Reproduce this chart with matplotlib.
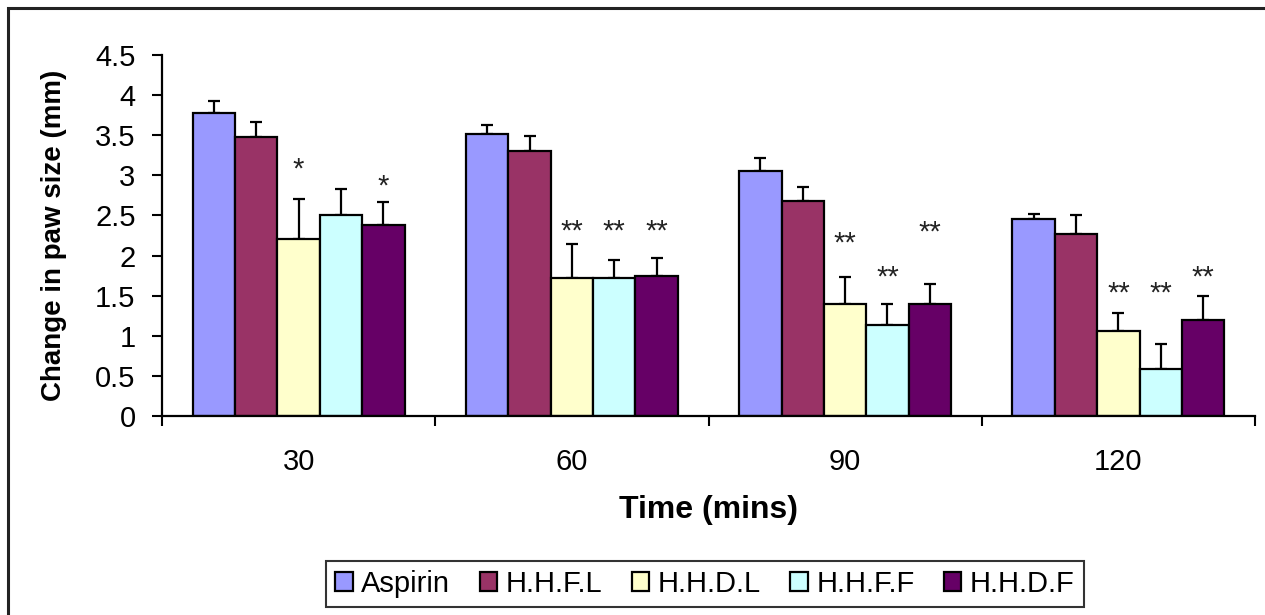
import matplotlib
matplotlib.use("Agg")
import matplotlib.pyplot as plt
import numpy as np
from matplotlib.patches import Rectangle

times = ["30", "60", "90", "120"]
groups = ["Aspirin", "H.H.F.L", "H.H.D.L", "H.H.F.F", "H.H.D.F"]
aspirin = [3.78, 3.52, 3.05, 2.46]
hhfl = [3.48, 3.30, 2.68, 2.27]
hhdl = [2.21, 1.72, 1.39, 1.06]
hhff = [2.50, 1.72, 1.14, 0.59]
hhdf = [2.38, 1.75, 1.39, 1.20]
err_aspirin = [0.15, 0.11, 0.16, 0.06]
err_hhfl = [0.19, 0.19, 0.17, 0.23]
err_hhdl = [0.50, 0.42, 0.34, 0.22]
err_hhff = [0.33, 0.23, 0.25, 0.31]
err_hhdf = [0.29, 0.22, 0.25, 0.30]
# significance marks: (time index, group index, label, y)
sig_time = [0, 0, 1, 1, 1, 2, 2, 2, 3, 3, 3]
sig_group = [2, 4, 2, 3, 4, 2, 3, 4, 2, 3, 4]
sig_label = ["*", "*", "**", "**", "**", "**", "**", "**", "**", "**", "**"]
sig_y = [3.07, 2.86, 2.30, 2.30, 2.30, 2.15, 1.72, 2.29, 1.52, 1.52, 1.72]

colors = ["#9999FF", "#993366", "#FFFFCC", "#CCFFFF", "#660066"]
values = [aspirin, hhfl, hhdl, hhff, hhdf]
errors = [err_aspirin, err_hhfl, err_hhdl, err_hhff, err_hhdf]

plt.rcParams['font.family'] = ['Liberation Sans', 'DejaVu Sans']

fig = plt.figure(figsize=(12.65, 6.15), dpi=100)
ax = fig.add_axes([162/1265, 1-416/615, (1255-162)/1265, (416-55)/615])

x = np.arange(len(times))
bw = 0.155
offsets = (np.arange(len(groups)) - 2) * bw
for i, (g, v, e, c) in enumerate(zip(groups, values, errors, colors)):
    ax.bar(x + offsets[i], v, bw, color=c, edgecolor="black", linewidth=1.6,
           label=g, zorder=2)
    ax.errorbar(x + offsets[i], v, yerr=[np.zeros(len(e)), e], fmt="none",
                ecolor="black", elinewidth=1.6, capsize=4, capthick=1.6, zorder=1)

for t, g, lab, yv in zip(sig_time, sig_group, sig_label, sig_y):
    ax.text(x[t] + offsets[g], yv, lab, ha="center", va="center", fontsize=21,
            color="#222222")

ax.set_xlim(-0.5, 3.5)
ax.set_ylim(0, 4.5)
ax.set_yticks(np.arange(0, 4.51, 0.5))
ax.set_yticklabels(["0", "0.5", "1", "1.5", "2", "2.5", "3", "3.5", "4", "4.5"])
ax.set_xticks(x)
ax.set_xticklabels(times)
ax.set_xticks(np.arange(-0.5, 3.6, 1), minor=True)
ax.tick_params(axis="x", which="major", length=0, labelsize=21, pad=23)
ax.tick_params(axis="x", which="minor", length=7, width=1.5, direction="out")
ax.tick_params(axis="y", length=7, width=1.5, direction="out", labelsize=21, pad=12)
for s in ["top", "right"]:
    ax.spines[s].set_visible(False)
for s in ["left", "bottom"]:
    ax.spines[s].set_linewidth(1.6)

ax.set_ylabel("Change in paw size (mm)", fontsize=20, fontweight="bold", labelpad=20)
ax.set_xlabel("Time (mins)", fontsize=23, fontweight="bold", labelpad=14)

leg = fig.legend(loc="center", bbox_to_anchor=(705/1265, 1-584/615), ncol=5,
                 fontsize=21, frameon=True, fancybox=False, edgecolor="black",
                 handlelength=0.6, handleheight=0.6, handletextpad=0.3,
                 columnspacing=1.0, borderpad=0.3)
leg.get_frame().set_linewidth(1.5)

fig.patches.append(Rectangle((8/1265, -0.1), 1.5, 1 - 8/615 + 0.1,
                             transform=fig.transFigure, fill=False,
                             edgecolor="#222222", linewidth=2.2))

fig.savefig("out.png", dpi=100)
